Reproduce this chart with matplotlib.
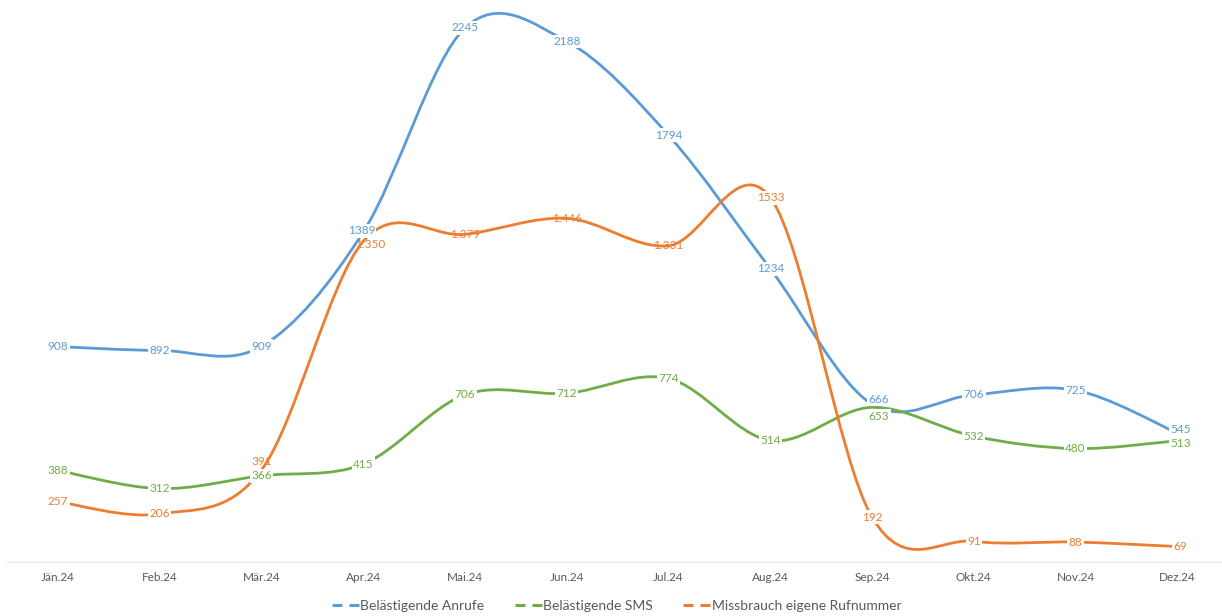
import matplotlib
matplotlib.use("Agg")
import matplotlib.pyplot as plt
from matplotlib.path import Path
from matplotlib.patches import PathPatch
from matplotlib.lines import Line2D
import numpy as np

months = ["Jän.24", "Feb.24", "Mär.24", "Apr.24", "Mai.24", "Jun.24",
          "Jul.24", "Aug.24", "Sep.24", "Okt.24", "Nov.24", "Dez.24"]
anrufe = [908, 892, 909, 1389, 2245, 2188, 1794, 1234, 666, 706, 725, 545]
sms = [388, 312, 366, 415, 706, 712, 774, 514, 653, 532, 480, 513]
missbrauch = [257, 206, 391, 1350, 1379, 1446, 1331, 1533, 192, 91, 88, 69]
missbrauch_labels = ["257", "206", "391", "1.350", "1.379", "1.446", "1.331",
                     "1533", "192", "91", "88", "69"]
series_names = ["Belästigende Anrufe", "Belästigende SMS", "Missbrauch eigene Rufnummer"]

BLUE = "#5B9BD5"
GREEN = "#70AD47"
ORANGE = "#ED7D31"
GRAY = "#595959"

plt.rcParams['font.family'] = ['Lato', 'DejaVu Sans']

W, H = 1222, 616
fig = plt.figure(figsize=(W / 100, H / 100), dpi=100)
ax = fig.add_axes([7.2 / W, (H - 563) / H, 1221 / W, 563 / H])
ax.set_xlim(-0.5, 11.5)
ax.set_ylim(0, 2362)
for s in ax.spines.values():
    s.set_visible(False)
ax.set_yticks([])
ax.set_xticks([])


def smooth_path(xs, ys):
    pts = np.column_stack([xs, ys]).astype(float)
    n = len(pts)
    verts = [pts[0]]
    codes = [Path.MOVETO]
    for i in range(n - 1):
        p0 = pts[i - 1] if i > 0 else pts[i]
        p1 = pts[i]
        p2 = pts[i + 1]
        p3 = pts[i + 2] if i + 2 < n else pts[i + 1]
        c1 = p1 + (p2 - p0) / 6.0
        c2 = p2 - (p3 - p1) / 6.0
        verts += [c1, c2, p2]
        codes += [Path.CURVE4] * 3
    return Path(verts, codes)


x = np.arange(len(months))
for vals, col in [(anrufe, BLUE), (sms, GREEN), (missbrauch, ORANGE)]:
    ax.add_patch(PathPatch(smooth_path(x, vals), fill=False, edgecolor=col,
                           lw=2.0, capstyle='round', joinstyle='round', zorder=2))

# baseline axis
ax.axhline(0, color="#E3E3E3", lw=1.6, zorder=1)

# data labels (offsets in pixels, +y = up)
offsets_blue = {3: (-2, 1), 8: (7, 5), 11: (3, 4)}
offsets_green = {8: (7, -9), 11: (3, -3)}
offsets_orange = {2: (0, 8), 3: (7, -3), 11: (3, 0)}
nobox_orange = {2, 3, 4, 5, 6}


def label(i, v, txt, col, off, box=True):
    dx, dy = off
    bb = dict(boxstyle="square,pad=0.12", fc="white", ec="none") if box else None
    ax.annotate(txt, (i, v), xytext=(dx * 0.72, dy * 0.72), textcoords="offset points",
                ha="center", va="center", fontsize=8.5, color=col, bbox=bb, zorder=5)


for i, v in enumerate(anrufe):
    label(i, v, str(v), BLUE, offsets_blue.get(i, (0, 0)))
for i, v in enumerate(sms):
    label(i, v, str(v), GREEN, offsets_green.get(i, (0, 0)))
for i, v in enumerate(missbrauch):
    label(i, v, missbrauch_labels[i], ORANGE, offsets_orange.get(i, (0, 0)),
          box=i not in nobox_orange)

# x labels
for i, m in enumerate(months):
    ax.text(i, -15 / 0.2384, m, ha="center", va="center", fontsize=8.5, color=GRAY)

lw_leg = 2.2
handles = [Line2D([], [], color=c, lw=lw_leg,
                  dashes=(7.2 / lw_leg, 5.0 / lw_leg, 7.4 / lw_leg, 30 / lw_leg))
           for c in (BLUE, GREEN, ORANGE)]
fig.legend(handles, series_names, loc="center", bbox_to_anchor=(616.5 / W, 10 / H),
           ncol=3, frameon=False, fontsize=10, labelcolor=GRAY, handlelength=1.94,
           handletextpad=0.1, columnspacing=2.2)

fig.savefig("out.png", dpi=100)
